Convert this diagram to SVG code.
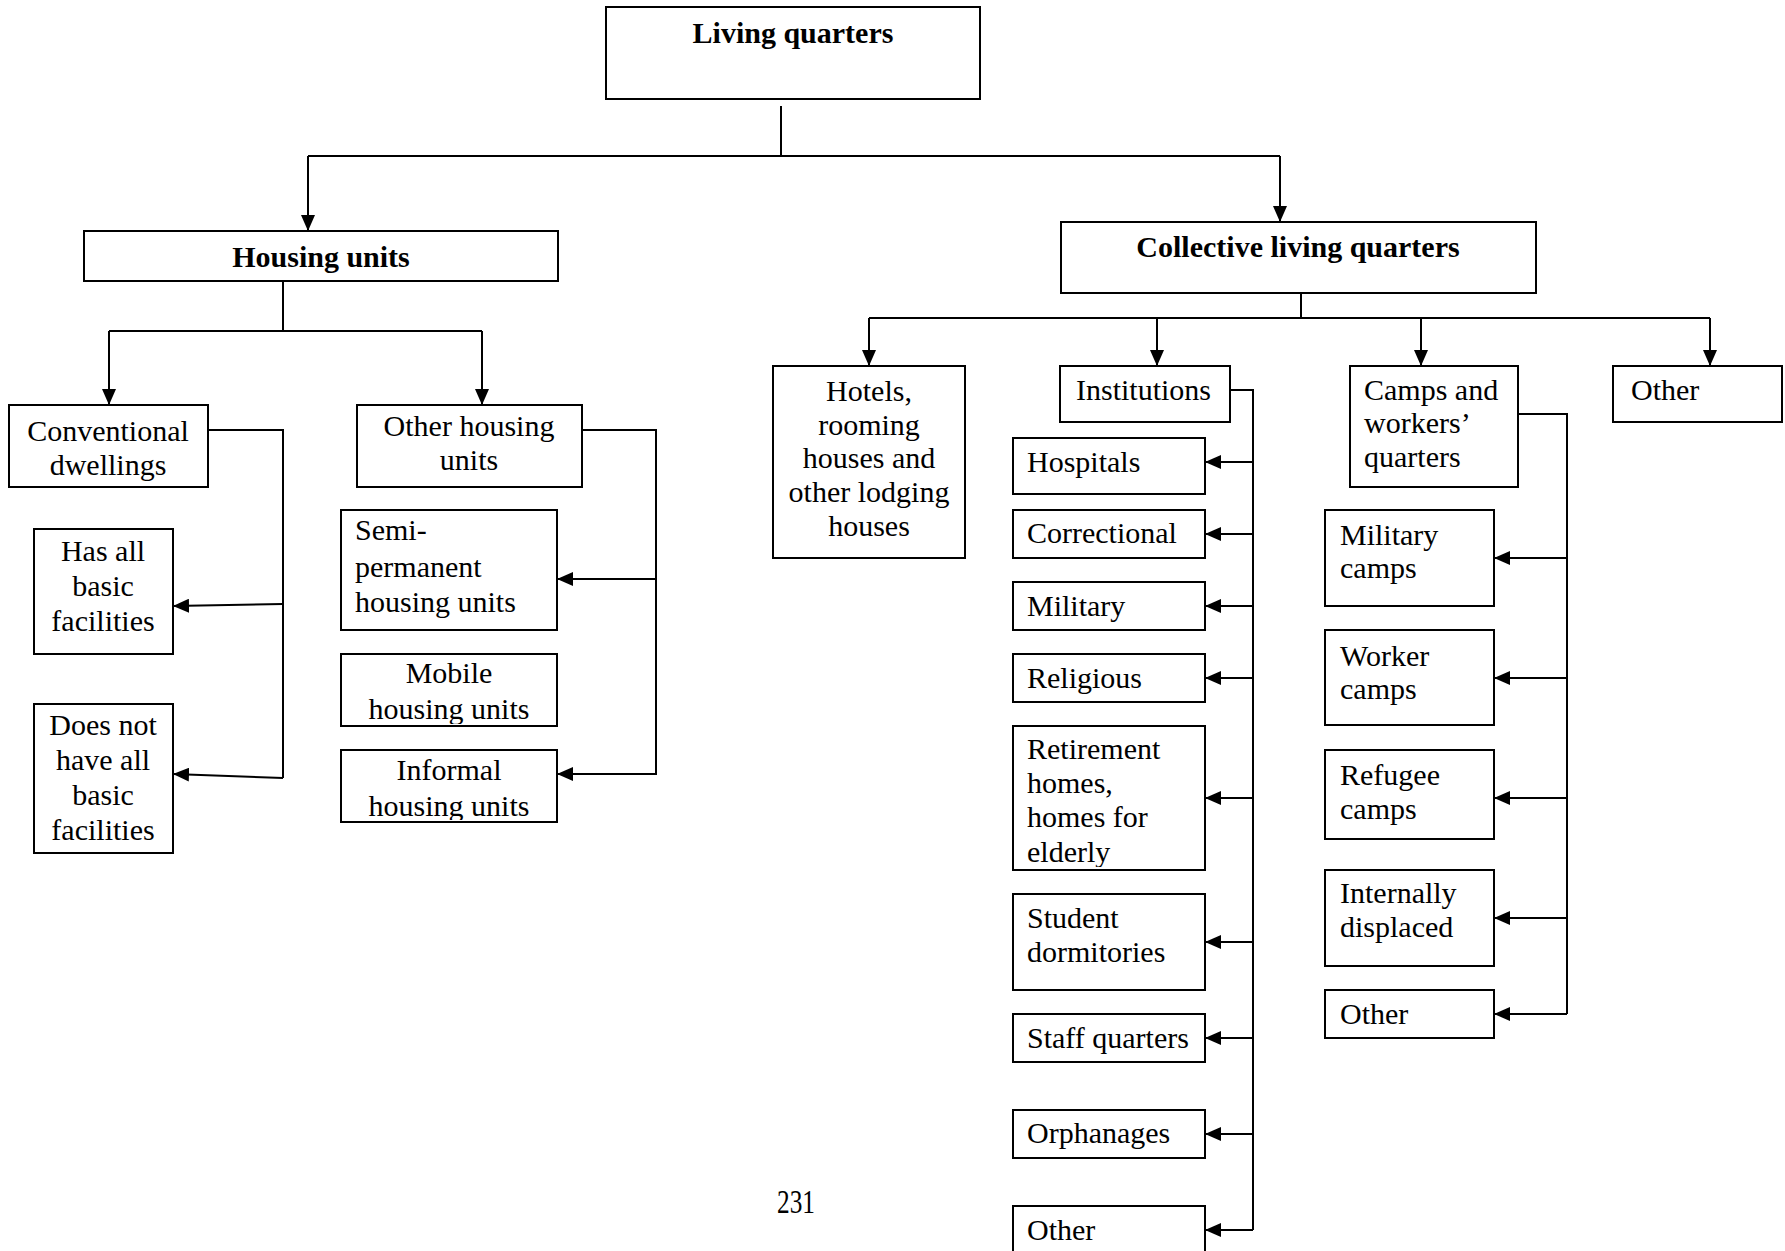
<svg xmlns="http://www.w3.org/2000/svg" width="1785" height="1251" viewBox="0 0 1785 1251">
<style>
  .box { fill: #fff; stroke: #000; stroke-width: 2; }
  .t { font-family: "Liberation Serif", "Times New Roman", serif; font-size: 30px; fill: #000; }
  .b { font-weight: bold; }
  .c { text-anchor: middle; }
  .ln { fill: none; stroke: #000; stroke-width: 2; }
  .ar { fill: none; stroke: #000; stroke-width: 2; marker-end: url(#ah); }
</style>
<defs>
  <marker id="ah" markerUnits="userSpaceOnUse" markerWidth="16" markerHeight="14" refX="16" refY="7" orient="auto">
    <path d="M0,0 L16,7 L0,14 Z" fill="#000"/>
  </marker>
  <clipPath id="cp-conv"><rect x="9" y="405" width="199" height="79"/></clipPath>
  <clipPath id="cp-mob"><rect x="341" y="654" width="216" height="70"/></clipPath>
  <clipPath id="cp-inf"><rect x="341" y="750" width="216" height="70"/></clipPath>
  <clipPath id="cp-ret"><rect x="1013" y="726" width="192" height="141"/></clipPath>
</defs>
<rect width="1785" height="1251" fill="#fff"/>

<g id="connectors">
  <path class="ln" d="M781,106 V156 M308,156 H1280"/>
  <path class="ar" d="M308,156 V231"/>
  <path class="ar" d="M1280,156 V222"/>
  <path class="ln" d="M283,281 V331 M109,331 H482"/>
  <path class="ar" d="M109,331 V405"/>
  <path class="ar" d="M482,331 V405"/>
  <path class="ln" d="M208,430 H283 V778"/>
  <path class="ar" d="M283,604 L173,606"/>
  <path class="ar" d="M283,778 L173,774"/>
  <path class="ln" d="M582,430 H656 V774"/>
  <path class="ar" d="M657,579 H557"/>
  <path class="ar" d="M657,774 H557"/>
  <path class="ln" d="M1301,293 V318 M869,318 H1710"/>
  <path class="ar" d="M869,318 V366"/>
  <path class="ar" d="M1157,318 V366"/>
  <path class="ar" d="M1421,318 V366"/>
  <path class="ar" d="M1710,318 V366"/>
  <path class="ln" d="M1230,390 H1253 V1230"/>
  <path class="ar" d="M1253,462 H1205"/>
  <path class="ar" d="M1253,534 H1205"/>
  <path class="ar" d="M1253,606 H1205"/>
  <path class="ar" d="M1253,678 H1205"/>
  <path class="ar" d="M1253,798 H1205"/>
  <path class="ar" d="M1253,942 H1205"/>
  <path class="ar" d="M1253,1038 H1205"/>
  <path class="ar" d="M1253,1134 H1205"/>
  <path class="ar" d="M1253,1230 H1205"/>
  <path class="ln" d="M1518,414 H1567 V1014"/>
  <path class="ar" d="M1567,558 H1494"/>
  <path class="ar" d="M1567,678 H1494"/>
  <path class="ar" d="M1567,798 H1494"/>
  <path class="ar" d="M1567,918 H1494"/>
  <path class="ar" d="M1567,1014 H1494"/>
</g>

<g id="living-quarters">
  <rect class="box" x="606" y="7" width="374" height="92"/>
  <text class="t b c" x="793" y="43">Living quarters</text>
</g>
<g id="housing-units">
  <rect class="box" x="84" y="231" width="474" height="50"/>
  <text class="t b c" x="321" y="267">Housing units</text>
</g>
<g id="collective">
  <rect class="box" x="1061" y="222" width="475" height="71"/>
  <text class="t b c" x="1298" y="257">Collective living quarters</text>
</g>

<g id="conventional">
  <rect class="box" x="9" y="405" width="199" height="82"/>
  <text class="t c" x="108" clip-path="url(#cp-conv)"><tspan x="108" y="441">Conventional</tspan><tspan x="108" y="475">dwellings</tspan></text>
</g>
<g id="other-housing">
  <rect class="box" x="357" y="405" width="225" height="82"/>
  <text class="t c"><tspan x="469" y="436">Other housing</tspan><tspan x="469" y="470">units</tspan></text>
</g>
<g id="has-all">
  <rect class="box" x="34" y="529" width="139" height="125"/>
  <text class="t c"><tspan x="103" y="561">Has all</tspan><tspan x="103" y="596">basic</tspan><tspan x="103" y="631">facilities</tspan></text>
</g>
<g id="not-all">
  <rect class="box" x="34" y="704" width="139" height="149"/>
  <text class="t c"><tspan x="103" y="735">Does not</tspan><tspan x="103" y="770">have all</tspan><tspan x="103" y="805">basic</tspan><tspan x="103" y="840">facilities</tspan></text>
</g>
<g id="semi-permanent">
  <rect class="box" x="341" y="510" width="216" height="120"/>
  <text class="t"><tspan x="355" y="540">Semi-</tspan><tspan x="355" y="577">permanent</tspan><tspan x="355" y="612">housing units</tspan></text>
</g>
<g id="mobile">
  <rect class="box" x="341" y="654" width="216" height="72"/>
  <text class="t c" clip-path="url(#cp-mob)"><tspan x="449" y="683">Mobile</tspan><tspan x="449" y="719">housing units</tspan></text>
</g>
<g id="informal">
  <rect class="box" x="341" y="750" width="216" height="72"/>
  <text class="t c" clip-path="url(#cp-inf)"><tspan x="449" y="780">Informal</tspan><tspan x="449" y="816">housing units</tspan></text>
</g>

<g id="hotels">
  <rect class="box" x="773" y="366" width="192" height="192"/>
  <text class="t c"><tspan x="869" y="401">Hotels,</tspan><tspan x="869" y="435">rooming</tspan><tspan x="869" y="468">houses and</tspan><tspan x="869" y="502">other lodging</tspan><tspan x="869" y="536">houses</tspan></text>
</g>
<g id="institutions">
  <rect class="box" x="1060" y="366" width="170" height="56"/>
  <text class="t" x="1076" y="400">Institutions</text>
</g>
<g id="hospitals">
  <rect class="box" x="1013" y="438" width="192" height="56"/>
  <text class="t" x="1027" y="472">Hospitals</text>
</g>
<g id="correctional">
  <rect class="box" x="1013" y="510" width="192" height="48"/>
  <text class="t" x="1027" y="543">Correctional</text>
</g>
<g id="military">
  <rect class="box" x="1013" y="582" width="192" height="48"/>
  <text class="t" x="1027" y="616">Military</text>
</g>
<g id="religious">
  <rect class="box" x="1013" y="654" width="192" height="48"/>
  <text class="t" x="1027" y="688">Religious</text>
</g>
<g id="retirement">
  <rect class="box" x="1013" y="726" width="192" height="144"/>
  <text class="t" clip-path="url(#cp-ret)"><tspan x="1027" y="759">Retirement</tspan><tspan x="1027" y="793">homes,</tspan><tspan x="1027" y="827">homes for</tspan><tspan x="1027" y="862">elderly</tspan></text>
</g>
<g id="student">
  <rect class="box" x="1013" y="894" width="192" height="96"/>
  <text class="t"><tspan x="1027" y="928">Student</tspan><tspan x="1027" y="962">dormitories</tspan></text>
</g>
<g id="staff">
  <rect class="box" x="1013" y="1014" width="192" height="48"/>
  <text class="t" x="1027" y="1048">Staff quarters</text>
</g>
<g id="orphanages">
  <rect class="box" x="1013" y="1110" width="192" height="48"/>
  <text class="t" x="1027" y="1143">Orphanages</text>
</g>
<g id="inst-other">
  <rect class="box" x="1013" y="1206" width="192" height="60"/>
  <text class="t" x="1027" y="1240">Other</text>
</g>

<g id="camps">
  <rect class="box" x="1350" y="366" width="168" height="121"/>
  <text class="t"><tspan x="1364" y="400">Camps and</tspan><tspan x="1364" y="433">workers’</tspan><tspan x="1364" y="467">quarters</tspan></text>
</g>
<g id="military-camps">
  <rect class="box" x="1325" y="510" width="169" height="96"/>
  <text class="t"><tspan x="1340" y="545">Military</tspan><tspan x="1340" y="578">camps</tspan></text>
</g>
<g id="worker-camps">
  <rect class="box" x="1325" y="630" width="169" height="95"/>
  <text class="t"><tspan x="1340" y="666">Worker</tspan><tspan x="1340" y="699">camps</tspan></text>
</g>
<g id="refugee-camps">
  <rect class="box" x="1325" y="750" width="169" height="89"/>
  <text class="t"><tspan x="1340" y="785">Refugee</tspan><tspan x="1340" y="819">camps</tspan></text>
</g>
<g id="internally-displaced">
  <rect class="box" x="1325" y="870" width="169" height="96"/>
  <text class="t"><tspan x="1340" y="903">Internally</tspan><tspan x="1340" y="937">displaced</tspan></text>
</g>
<g id="camps-other">
  <rect class="box" x="1325" y="990" width="169" height="48"/>
  <text class="t" x="1340" y="1024">Other</text>
</g>

<g id="other-top">
  <rect class="box" x="1613" y="366" width="169" height="56"/>
  <text class="t" x="1631" y="400">Other</text>
</g>

<text class="t" x="777" y="1213" style="font-size:34px" textLength="38" lengthAdjust="spacingAndGlyphs">231</text>
</svg>
